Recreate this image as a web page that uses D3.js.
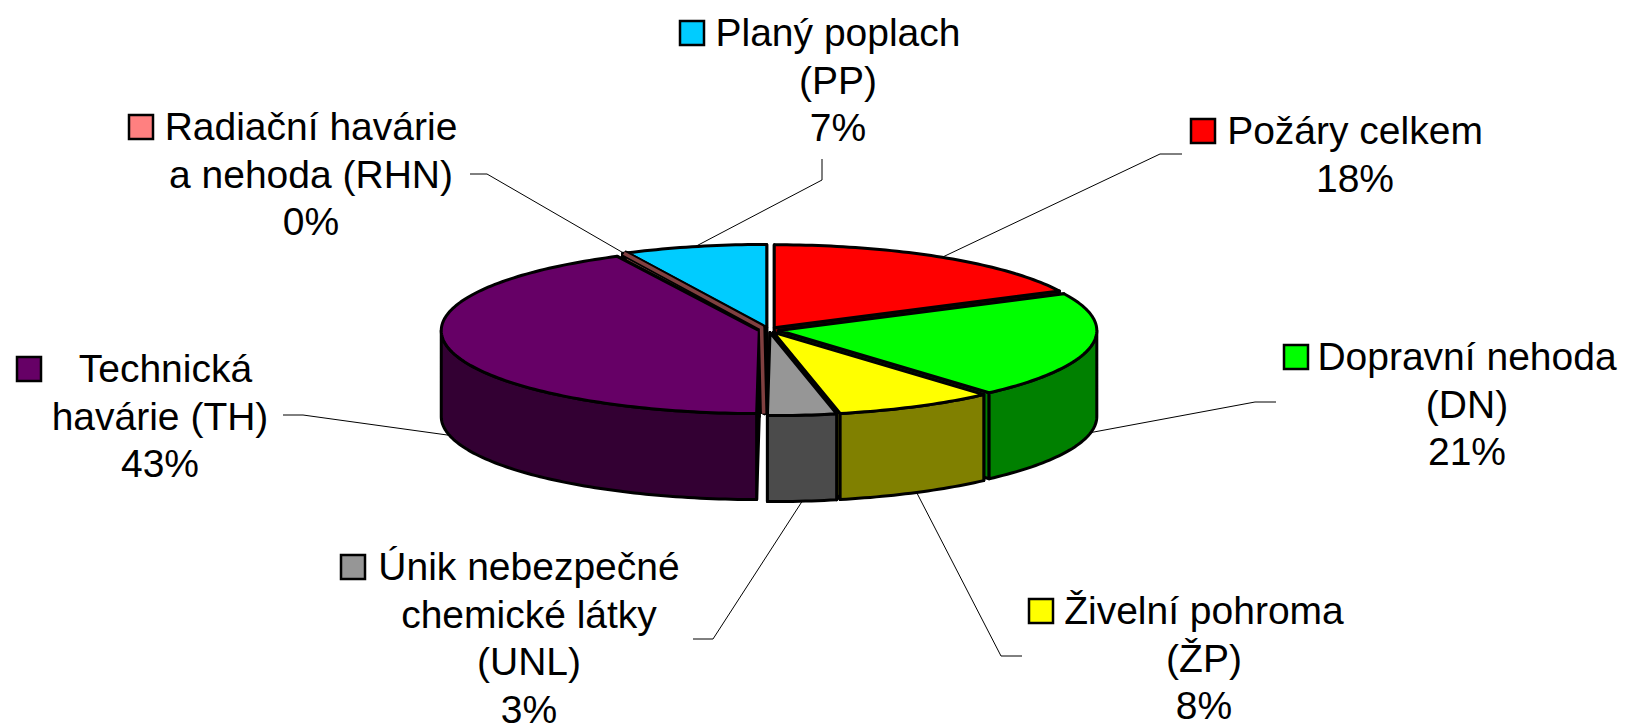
<!DOCTYPE html>
<html>
<head>
<meta charset="utf-8">
<script src="https://cdnjs.cloudflare.com/ajax/libs/d3/7.8.5/d3.min.js"></script>
<style>
  html, body { margin: 0; padding: 0; background: #fff; overflow: hidden; }
  text { font-family: "Liberation Sans", Arial, sans-serif; font-size: 39px; fill: #000; text-anchor: middle; }
</style>
</head>
<body>
<div id="chart"></div>
<script>
// data
const categories = ["PZ", "DN", "ZP", "UNL", "TH", "RHN", "PP"];
const values = [17.7, 20.8, 8.14, 3.49, 42.5, 0.15, 7.22];
const labelLines = [
  ["Požáry celkem"],
  ["Dopravní nehoda", "(DN)"],
  ["Živelní pohroma", "(ŽP)"],
  ["Únik nebezpečné", "chemické látky", "(UNL)"],
  ["\u00a0Technická", "havárie (TH)"],
  ["Radiační havárie", "a nehoda (RHN)"],
  ["Planý poplach", "(PP)"]
];
const topColors = ["#ff0000", "#00ff00", "#ffff00", "#969696", "#660066", "#ff8080", "#00ccff"];
const sideColors = ["#800000", "#008000", "#808000", "#4b4b4b", "#330033", "#804040", "#006680"];

const w = 1626, h = 726;

/* pie geometry */
const cx = 769, cy = 330, rx = 318, ry = 83, depth = 86, explode = 10;

/* label placement, same order as categories */
const labelX = [1355, 1467, 1204, 529, 160, 311, 838];
const labelY = [144, 370, 624, 580, 382, 140, 46];
const keyX = [1191, 1284, 1029, 341, 17, 129, 680];
const elbows = [
  [[1182, 154], [1160, 154]],
  [[1276, 402], [1255, 402]],
  [[1022, 656], [1001, 656]],
  [[693, 639], [713, 639]],
  [[283, 415], [303, 415]],
  [[470, 174], [487, 174]],
  [[822, 159], [822, 180]]
];

const svg = d3.select("#chart").append("svg").attr("width", w).attr("height", h);

const color = d3.scaleOrdinal().domain(categories).range(topColors);
const sideColor = d3.scaleOrdinal().domain(categories).range(sideColors);

const arcs = d3.pie().sort(null).value((d, i) => values[i])(categories);
const line = d3.line();

const point = (a, t, dz) => {
  const mid = (a.startAngle + a.endAngle) / 2;
  return [
    cx + explode * Math.sin(mid) + rx * Math.sin(t),
    cy - explode * ry / rx * Math.cos(mid) - ry * Math.cos(t) + dz
  ];
};
const tip = (a, dz) => {
  const mid = (a.startAngle + a.endAngle) / 2;
  return [cx + explode * Math.sin(mid), cy - explode * ry / rx * Math.cos(mid) + dz];
};
const edge = (a, t0, t1, dz) => {
  const n = Math.max(2, Math.ceil((t1 - t0) / 0.02));
  return d3.range(n + 1).map(i => point(a, t0 + (t1 - t0) * i / n, dz));
};

/* back slices first so the front ones cover them */
const order = arcs.slice().sort((p, q) =>
  Math.cos((q.startAngle + q.endAngle) / 2) - Math.cos((p.startAngle + p.endAngle) / 2));

const pieG = svg.append("g")
  .attr("stroke", "#000").attr("stroke-width", 3).attr("stroke-linejoin", "round");

order.forEach(a => {
  const dark = sideColor(a.data);
  [a.startAngle, a.endAngle].forEach(t => {
    pieG.append("path").attr("fill", dark)
      .attr("d", line([tip(a, 0), point(a, t, 0), point(a, t, depth), tip(a, depth)]) + "Z");
  });
  const t0 = Math.max(a.startAngle, Math.PI / 2), t1 = Math.min(a.endAngle, Math.PI * 1.5);
  if (t1 > t0) {
    pieG.append("path").attr("fill", dark)
      .attr("d", line(edge(a, t0, t1, 0).concat(edge(a, t0, t1, depth).reverse())) + "Z");
  }
  pieG.append("path").attr("fill", color(a.data))
    .attr("d", line([tip(a, 0)].concat(edge(a, a.startAngle, a.endAngle, 0))) + "Z");
});

/* the thin RHN slice shows only as a brown seam, bending down along the TH edge */
const rhn = arcs[5], th = arcs[4];
const rhnMid = (rhn.startAngle + rhn.endAngle) / 2;
const thFront = point(th, th.startAngle, 0);
const seam = [point(rhn, rhnMid, 0), [tip(rhn, 0)[0] - 3, tip(rhn, 0)[1]], [thFront[0] + 7, thFront[1]]];
pieG.append("path").attr("fill", "none").attr("stroke", "#000").attr("stroke-width", 7)
  .attr("d", line(seam));
pieG.append("path").attr("fill", "none").attr("stroke", sideColor(rhn.data)).attr("stroke-width", 3.5)
  .attr("d", line(seam));

/* leader lines run from the label elbow to the slice at its mid angle */
arcs.forEach((a, i) => {
  const mid = (a.startAngle + a.endAngle) / 2;
  const end = point(a, mid, Math.cos(mid) < 0 ? depth : 0);
  svg.append("path").attr("fill", "none").attr("stroke", "#000").attr("stroke-width", 1)
    .attr("d", line(elbows[i].concat([end])));
});

/* labels with a colour key in front of the first line */
arcs.forEach((a, i) => {
  const lines = labelLines[i].concat([Math.round(values[i]) + "%"]);
  const t = svg.append("text").attr("x", labelX[i]).attr("y", labelY[i]);
  lines.forEach((s, j) => {
    t.append("tspan").attr("x", labelX[i]).attr("dy", j ? 47.7 : 0).text(s);
  });
  const keyY = labelY[i] - 25;
  svg.append("rect").attr("x", keyX[i]).attr("y", keyY).attr("width", 24).attr("height", 24)
    .attr("fill", color(a.data)).attr("stroke", "#000").attr("stroke-width", 2.5);
});
</script>
</body>
</html>
